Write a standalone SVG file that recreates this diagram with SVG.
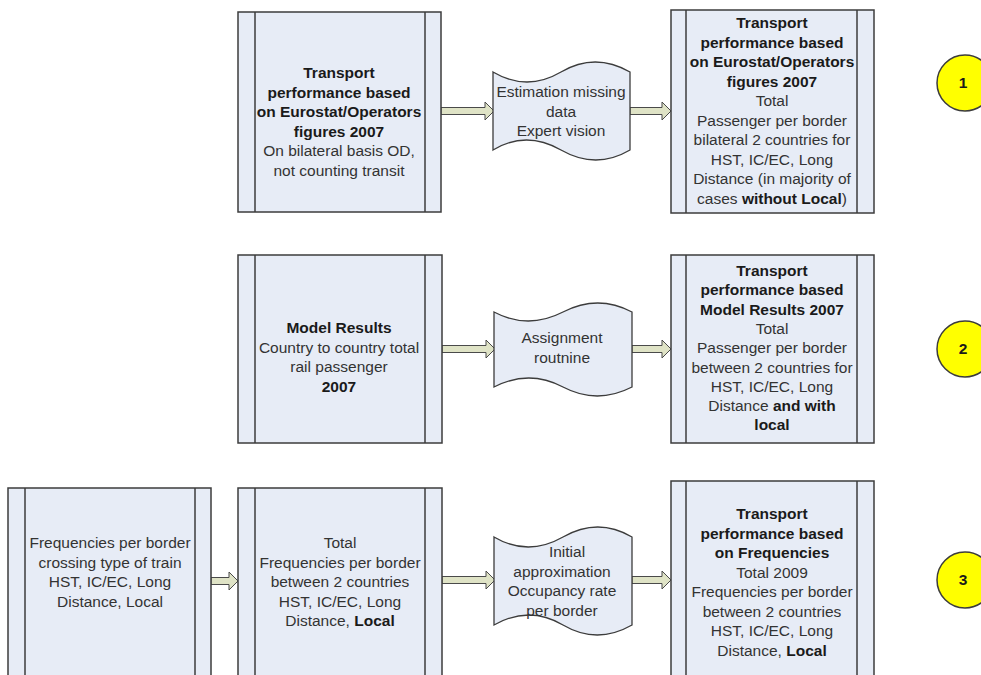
<svg xmlns="http://www.w3.org/2000/svg" width="981" height="675" viewBox="0 0 981 675">
<style>
.box{fill:#e7ecf6;stroke:#3c3c3c;stroke-width:1.5}
.ln{stroke:#3c3c3c;stroke-width:1.5}
.doc{fill:#e7ecf6;stroke:#3c3c3c;stroke-width:1.3}
.arr{fill:#dfe3c6;stroke:#4a4a4a;stroke-width:1}
.cir{fill:#ffff00;stroke:#3c3c3c;stroke-width:1.5}
text{font-family:"Liberation Sans",Arial,sans-serif;font-size:15.5px;fill:#333;text-anchor:middle}
.b{font-weight:bold;fill:#1a1a1a}
</style>
<rect width="981" height="675" fill="#ffffff"/>
<g id="connectors">
<path class="arr" d="M441,107.5 H485 V102 L494,111 L485,120 V114.5 H441 Z"/>
<path class="arr" d="M630,107.5 H662 V102 L671,111 L662,120 V114.5 H630 Z"/>
<path class="arr" d="M442,345.5 H486 V340 L495,349 L486,358 V352.5 H442 Z"/>
<path class="arr" d="M632,345.5 H662 V340 L671,349 L662,358 V352.5 H632 Z"/>
<path class="arr" d="M211,577.5 H229 V572 L238,581 L229,590 V584.5 H211 Z"/>
<path class="arr" d="M442,576.5 H486 V571 L495,580 L486,589 V583.5 H442 Z"/>
<path class="arr" d="M632,576.5 H662 V571 L671,580 L662,589 V583.5 H632 Z"/>
</g>
<g id="n1a">
<rect class="box" x="238" y="12" width="203" height="200"/>
<line class="ln" x1="255" y1="12" x2="255" y2="212"/><line class="ln" x1="425" y1="12" x2="425" y2="212"/>
<text x="339" y="78"><tspan class="b">Transport</tspan><tspan class="b" x="339" dy="19.5">performance based</tspan><tspan class="b" x="339" dy="19.5">on Eurostat/Operators</tspan><tspan class="b" x="339" dy="19.5">figures 2007</tspan><tspan x="339" dy="19.5">On bilateral basis OD,</tspan><tspan x="339" dy="19.5">not counting transit</tspan></text>
</g>
<g id="n1b">
<path class="doc" d="M493,72 Q527,92 561,72 T630,72 V150 Q596,170 561,150 T493,150 Z"/>
<text x="561" y="97">Estimation missing<tspan x="561" dy="19.5">data</tspan><tspan x="561" dy="19.5">Expert vision</tspan></text>
</g>
<g id="n1c">
<rect class="box" x="671" y="10" width="203" height="203"/>
<line class="ln" x1="686" y1="10" x2="686" y2="213"/><line class="ln" x1="857" y1="10" x2="857" y2="213"/>
<text x="772" y="28"><tspan class="b">Transport</tspan><tspan class="b" x="772" dy="19.5">performance based</tspan><tspan class="b" x="772" dy="19.5">on Eurostat/Operators</tspan><tspan class="b" x="772" dy="19.5">figures 2007</tspan><tspan x="772" dy="19.5">Total</tspan><tspan x="772" dy="19.5">Passenger per border</tspan><tspan x="772" dy="19.5">bilateral 2 countries for</tspan><tspan x="772" dy="19.5">HST, IC/EC, Long</tspan><tspan x="772" dy="19.5">Distance (in majority of</tspan><tspan x="772" dy="19.5">cases <tspan class="b">without Local</tspan>)</tspan></text>
</g>
<g id="c1"><circle class="cir" cx="965" cy="83" r="28"/><text class="b" x="963" y="88">1</text></g>
<g id="n2a">
<rect class="box" x="238" y="255" width="204" height="188"/>
<line class="ln" x1="255" y1="255" x2="255" y2="443"/><line class="ln" x1="425" y1="255" x2="425" y2="443"/>
<text x="339" y="333"><tspan class="b">Model Results</tspan><tspan x="339" dy="19.5">Country to country total</tspan><tspan x="339" dy="19.5">rail passenger</tspan><tspan class="b" x="339" dy="19.5">2007</tspan></text>
</g>
<g id="n2b">
<path class="doc" d="M494,312 Q528,330 563,312 T632,312 V387 Q597,405 563,387 T494,387 Z"/>
<text x="562" y="343">Assignment<tspan x="562" dy="19.5">routnine</tspan></text>
</g>
<g id="n2c">
<rect class="box" x="671" y="255" width="203" height="188"/>
<line class="ln" x1="686" y1="255" x2="686" y2="443"/><line class="ln" x1="857" y1="255" x2="857" y2="443"/>
<text x="772" y="276"><tspan class="b">Transport</tspan><tspan class="b" x="772" dy="19.3">performance based</tspan><tspan class="b" x="772" dy="19.3">Model Results 2007</tspan><tspan x="772" dy="19.3">Total</tspan><tspan x="772" dy="19.3">Passenger per border</tspan><tspan x="772" dy="19.3">between 2 countries for</tspan><tspan x="772" dy="19.3">HST, IC/EC, Long</tspan><tspan x="772" dy="19.3">Distance <tspan class="b">and with</tspan></tspan><tspan class="b" x="772" dy="19.3">local</tspan></text>
</g>
<g id="c2"><circle class="cir" cx="965" cy="349" r="28"/><text class="b" x="963" y="354">2</text></g>
<g id="n3a">
<rect class="box" x="8" y="488" width="203" height="200"/>
<line class="ln" x1="25" y1="488" x2="25" y2="688"/><line class="ln" x1="195" y1="488" x2="195" y2="688"/>
<text x="110" y="548">Frequencies per border<tspan x="110" dy="19.5">crossing type of train</tspan><tspan x="110" dy="19.5">HST, IC/EC, Long</tspan><tspan x="110" dy="19.5">Distance, Local</tspan></text>
</g>
<g id="n3b">
<rect class="box" x="238" y="488" width="204" height="200"/>
<line class="ln" x1="255" y1="488" x2="255" y2="688"/><line class="ln" x1="425" y1="488" x2="425" y2="688"/>
<text x="340" y="548">Total<tspan x="340" dy="19.5">Frequencies per border</tspan><tspan x="340" dy="19.5">between 2 countries</tspan><tspan x="340" dy="19.5">HST, IC/EC, Long</tspan><tspan x="340" dy="19.5">Distance, <tspan class="b">Local</tspan></tspan></text>
</g>
<g id="n3c">
<path class="doc" d="M494,537 Q528,557 563,537 T632,537 V625 Q597,645 563,625 T494,625 Z"/>
<text x="562" y="557"><tspan x="567">Initial</tspan><tspan x="562" dy="19.5">approximation</tspan><tspan x="562" dy="19.5">Occupancy rate</tspan><tspan x="562" dy="19.5">per border</tspan></text>
</g>
<g id="n3d">
<rect class="box" x="671" y="481" width="203" height="210"/>
<line class="ln" x1="686" y1="481" x2="686" y2="691"/><line class="ln" x1="857" y1="481" x2="857" y2="691"/>
<text x="772" y="519"><tspan class="b">Transport</tspan><tspan class="b" x="772" dy="19.5">performance based</tspan><tspan class="b" x="772" dy="19.5">on Frequencies</tspan><tspan x="772" dy="19.5">Total 2009</tspan><tspan x="772" dy="19.5">Frequencies per border</tspan><tspan x="772" dy="19.5">between 2 countries</tspan><tspan x="772" dy="19.5">HST, IC/EC, Long</tspan><tspan x="772" dy="19.5">Distance, <tspan class="b">Local</tspan></tspan></text>
</g>
<g id="c3"><circle class="cir" cx="965" cy="580" r="28"/><text class="b" x="963" y="585">3</text></g>
</svg>
